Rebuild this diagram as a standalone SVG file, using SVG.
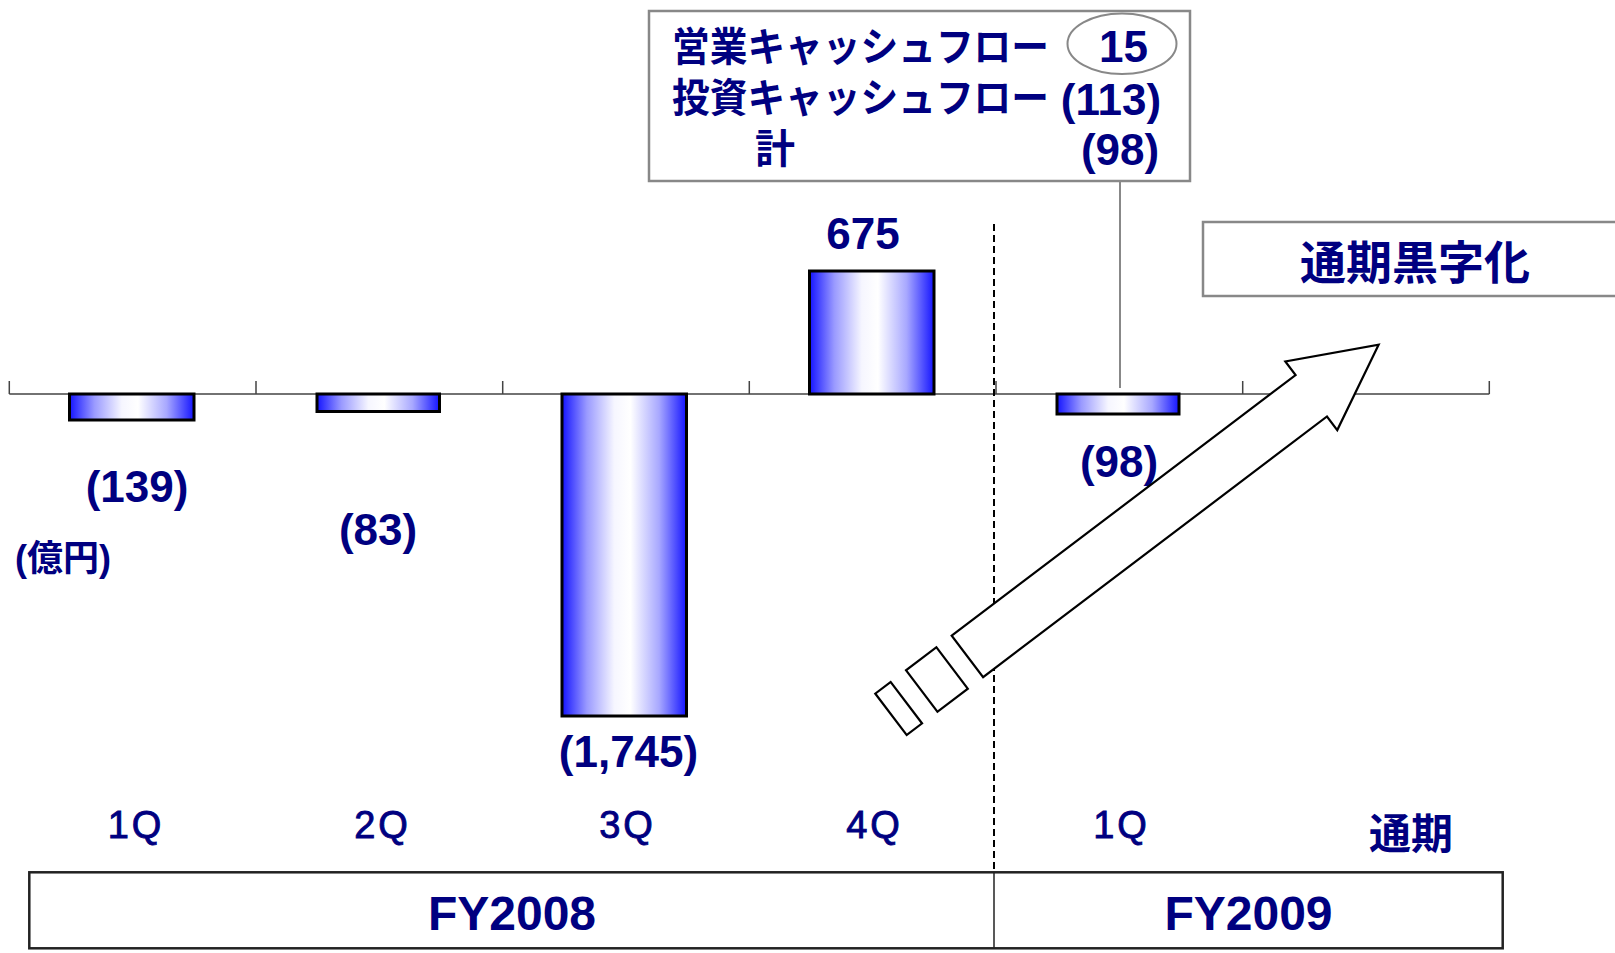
<svg xmlns="http://www.w3.org/2000/svg" width="1615" height="953" viewBox="0 0 1615 953">
<defs>
<linearGradient id="barGrad" x1="0" y1="0" x2="1" y2="0">
<stop offset="0" stop-color="#1414ff"/>
<stop offset="0.2" stop-color="#9a9aff"/>
<stop offset="0.42" stop-color="#f6f6ff"/>
<stop offset="0.55" stop-color="#ffffff"/>
<stop offset="0.78" stop-color="#a8a8ff"/>
<stop offset="1" stop-color="#1414ff"/>
</linearGradient>
</defs>
<style>
.bar{fill:url(#barGrad);stroke:#000;stroke-width:3}
.num{font-family:"Liberation Sans",Arial,sans-serif;font-weight:bold;fill:#000080;text-anchor:middle}
.jp{font-family:"Noto Sans CJK JP","Noto Sans CJK SC",sans-serif;font-weight:bold;fill:#000080}
.q{font-family:"Liberation Sans",Arial,sans-serif;font-size:38px;fill:#000080;stroke:#000080;stroke-width:0.9;text-anchor:middle;letter-spacing:3px}
.gbox{fill:#fff;stroke:#888;stroke-width:2.5}
.axis{stroke:#444;stroke-width:1.5;fill:none}
.arrow{fill:#fff;stroke:#000;stroke-width:2.2;stroke-linejoin:miter}
</style>
<rect width="1615" height="953" fill="#fff"/>

<g id="axis">
<path class="axis" d="M9.3,394 H1489.3 M9.3,381 V394 M256,381 V394 M502.7,381 V394 M749.3,381 V394 M996,381 V394 M1242.7,381 V394 M1489.3,381 V394"/>
</g>

<g id="divider">
<line x1="994" y1="224" x2="994" y2="872" stroke="#000" stroke-width="2" stroke-dasharray="7,4"/>
</g>

<g id="bars">
<rect class="bar" x="69.5" y="394" width="124.5" height="26"/>
<rect class="bar" x="317" y="394" width="122.5" height="17.5"/>
<rect class="bar" x="562" y="394" width="124.5" height="322"/>
<rect class="bar" x="809.5" y="271" width="124.5" height="123"/>
<rect class="bar" x="1057" y="394" width="122" height="20"/>
</g>

<g id="values">
<text class="num" x="137" y="502" font-size="44">(139)</text>
<text class="num" x="378" y="545" font-size="44">(83)</text>
<text class="num" x="628.5" y="767" font-size="44">(1,745)</text>
<text class="num" x="863" y="249" font-size="44">675</text>
<text class="num" x="1119" y="477" font-size="44">(98)</text>
</g>

<g id="unit">
<text x="15" y="571" font-size="36" font-family="Liberation Sans,'Noto Sans CJK JP',sans-serif" font-weight="bold" fill="#000080">(億円)</text>
</g>

<g id="quarter-labels">
<text class="q" x="136" y="838">1Q</text>
<text class="q" x="382.5" y="838">2Q</text>
<text class="q" x="627.5" y="838">3Q</text>
<text class="q" x="874.5" y="838">4Q</text>
<text class="q" x="1121.5" y="838">1Q</text>
<text class="jp" x="1411" y="849" font-size="42" text-anchor="middle" fill="#000090">通期</text>
</g>

<g id="connectors">
<line x1="1120" y1="181" x2="1120" y2="388" stroke="#888" stroke-width="2"/>
</g>

<g id="cash-flow-box">
<rect class="gbox" x="649" y="11" width="541" height="170"/>
<ellipse cx="1122" cy="43.7" rx="54.5" ry="30.3" fill="none" stroke="#888" stroke-width="2"/>
<text class="jp" x="672" y="61" font-size="40" textLength="377" lengthAdjust="spacingAndGlyphs">営業キャッシュフロー</text>
<text class="num" x="1123.5" y="62" font-size="44">15</text>
<text class="jp" x="672" y="112" font-size="40" textLength="377" lengthAdjust="spacingAndGlyphs">投資キャッシュフロー</text>
<text class="num" x="1111" y="115" font-size="44">(113)</text>
<text class="jp" x="755" y="163" font-size="40">計</text>
<text class="num" x="1120" y="165" font-size="44">(98)</text>
</g>

<g id="target-box">
<rect class="gbox" x="1203" y="222" width="420" height="74"/>
<text class="jp" x="1415" y="279" font-size="46" text-anchor="middle" fill="#000090">通期黒字化</text>
</g>

<g id="growth-arrow" transform="translate(951.7,635.7) rotate(-37.16)">
<polygon class="arrow" points="0,0 431.5,0 431.5,-17 516,26 431.5,69 431.5,52 0,52"/>
<rect class="arrow" x="-57.3" y="0" width="38.1" height="52"/>
<rect class="arrow" x="-95.9" y="0" width="19.3" height="52"/>
</g>

<g id="fiscal-years">
<rect x="29.3" y="872.3" width="1473.4" height="76" fill="#fff" stroke="#222" stroke-width="2.5"/>
<line x1="994" y1="872.3" x2="994" y2="948.3" stroke="#222" stroke-width="1.5"/>
<text class="num" x="512" y="930" font-size="48">FY2008</text>
<text class="num" x="1248.5" y="930" font-size="48">FY2009</text>
</g>
</svg>
